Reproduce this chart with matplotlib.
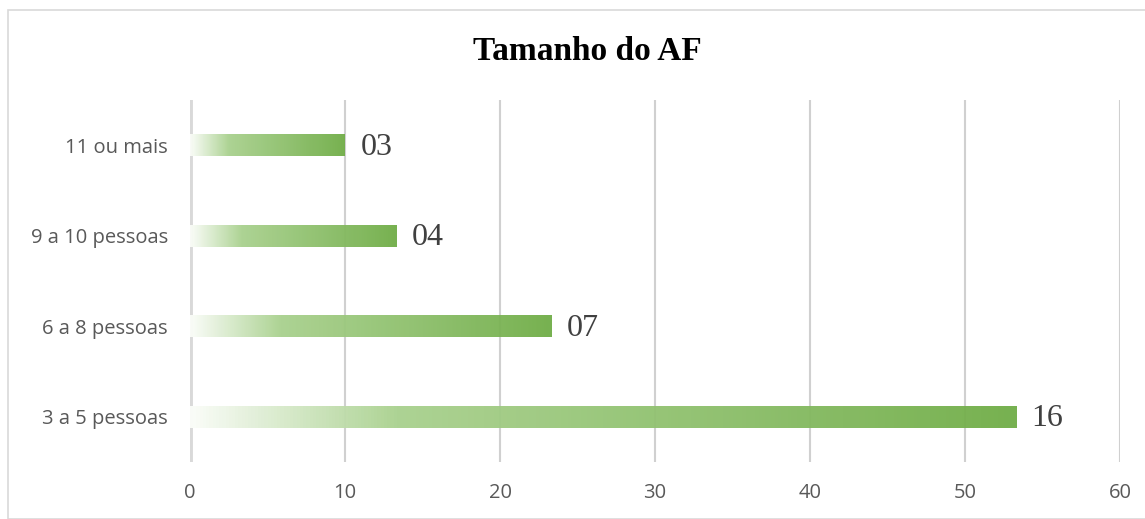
import numpy as np
import matplotlib
matplotlib.use("Agg")
from matplotlib import pyplot as plt
from matplotlib.colors import LinearSegmentedColormap
from matplotlib.patches import Rectangle

# data (bar length = share in %, label = count)
categories = ["3 a 5 pessoas", "6 a 8 pessoas", "9 a 10 pessoas", "11 ou mais"]
percent = [53.3, 23.3, 13.3, 10.0]
counts = ["16", "07", "04", "03"]
xticks = [0, 10, 20, 30, 40, 50, 60]

fig = plt.figure(figsize=(11.45, 5.19), dpi=100)
fig.patches.append(Rectangle((8 / 1145, 0), 1.2, 1 - 10 / 519, transform=fig.transFigure,
                             fill=False, edgecolor="#d9d9d9", linewidth=1.2))
ax = fig.add_axes([190 / 1145, 1 - 462 / 519, 930 / 1145, 362 / 519])

cmap = LinearSegmentedColormap.from_list(
    "grad", [(0.0, "#fbfdf9"), (0.25, "#a9d18e"), (1.0, "#70ad47")])
grad = np.linspace(0, 1, 256).reshape(1, -1)
bar_h = 0.24

for i, (v, lab) in enumerate(zip(percent, counts)):
    ax.imshow(grad, cmap=cmap, aspect="auto", alpha=0.95, zorder=3,
              extent=[0, v, i - bar_h / 2, i + bar_h / 2])
    ax.text(v + 1.0, i - 0.02, lab, va="center", ha="left", fontsize=23,
            family="Liberation Serif", color="#404040", zorder=4)

ax.set_xlim(0, 60)
ax.set_ylim(-0.5, len(categories) - 0.5)
ax.set_xticks(xticks)
ax.set_yticks(range(len(categories)))
ax.set_yticklabels(categories)
ax.grid(axis="x", color="#d0d0d0", linewidth=1.5, zorder=0)
ax.set_axisbelow(True)
for s in ax.spines.values():
    s.set_visible(False)
ax.axvline(0, color="#d9d9d9", linewidth=3.5, zorder=2)
ax.tick_params(length=0, labelsize=14.5, labelcolor="#595959")
ax.tick_params(axis="x", pad=15)
ax.tick_params(axis="y", pad=16)
for t in ax.get_xticklabels() + ax.get_yticklabels():
    t.set_family("Open Sans")

fig.text(587 / 1145, 1 - 51 / 519, "Tamanho do AF", ha="center", va="center",
         fontsize=24, fontweight="bold", family="Liberation Serif", color="black")

fig.savefig("out.png", dpi=100)
